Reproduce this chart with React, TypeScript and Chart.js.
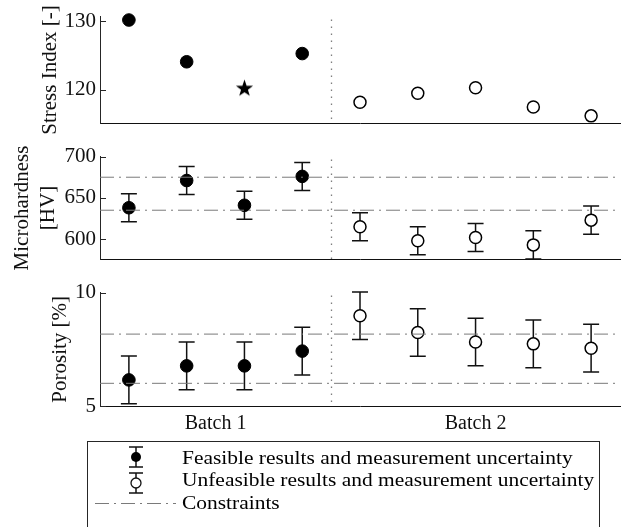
import React, { useEffect, useRef } from 'react';
import { Chart, registerables } from 'chart.js';

Chart.register(...registerables);

// ---------------- data ----------------
const batchLabels = ['Batch 1', 'Batch 2'];
const batch1Index = [0, 1, 2, 3];
const batch2Index = [4, 5, 6, 7, 8];

const stressBatch1 = [130.2, 124.1, 120.3, 125.3];
const stressBatch2 = [118.2, 119.5, 120.3, 117.5, 116.2];
const stressStarIndex = 2;
const stressTicks = [120, 130];

const hardnessBatch1 = [638, 671, 641, 676];
const hardnessBatch2 = [615, 598, 602, 593, 623];
const hardnessErrBatch1 = [17, 17, 17, 17];
const hardnessErrBatch2 = [17, 17, 17, 17, 17];
const hardnessConstraints = [635, 675];
const hardnessTicks = [600, 650, 700];

const porosityBatch1 = [6.15, 6.77, 6.77, 7.42];
const porosityBatch2 = [8.98, 8.24, 7.82, 7.74, 7.55];
const porosityErrBatch1 = [1.05, 1.05, 1.05, 1.05];
const porosityErrBatch2 = [1.05, 1.05, 1.05, 1.05, 1.05];
const porosityConstraints = [6.0, 8.17];
const porosityTicks = [5, 10];

const legendLabels = [
  'Feasible results and measurement uncertainty',
  'Unfeasible results and measurement uncertainty',
  'Constraints',
];

// ---------------- styling ----------------
const FONT = "'Liberation Serif', 'Times New Roman', serif";
const AXIS = '#262626';
const CONSTRAINT = '#7a7a7a';
const DASHDOT = [14, 5, 2, 5];
const X_MIN = -0.5;
const X_MAX = 8.5;
const separatorX = (batch1Index[batch1Index.length - 1] + batch2Index[0]) / 2;
const batchCenters = [batch1Index, batch2Index].map(
  (a) => a.reduce((s, v) => s + v, 0) / a.length
);

function pts(idx: number[], vals: number[]) {
  return idx.map((x, i) => ({ x, y: vals[i] }));
}

function makeStar(size: number) {
  const c = document.createElement('canvas');
  c.width = size;
  c.height = size;
  const g = c.getContext('2d')!;
  const cx = size / 2;
  const cy = size / 2 + 0.8;
  const R = size / 2 - 0.5;
  const r = R * 0.4;
  g.beginPath();
  for (let k = 0; k < 10; k++) {
    const a = -Math.PI / 2 + (k * Math.PI) / 5;
    const rad = k % 2 === 0 ? R : r;
    const px = cx + rad * Math.cos(a);
    const py = cy + rad * Math.sin(a);
    if (k === 0) g.moveTo(px, py);
    else g.lineTo(px, py);
  }
  g.closePath();
  g.fillStyle = '#000';
  g.fill();
  return c;
}

const decorPlugin = {
  id: 'decor',
  beforeDatasetsDraw(chart: any) {
    const { ctx, chartArea, scales } = chart;
    const xs = scales.x;
    const ys = scales.y;
    // batch separator
    ctx.save();
    ctx.strokeStyle = '#7f7f7f';
    ctx.lineWidth = 1.3;
    ctx.setLineDash([1.5, 5.5]);
    const sx = Math.round(xs.getPixelForValue(separatorX)) + 0.5;
    ctx.beginPath();
    ctx.moveTo(sx, chartArea.top + 3);
    ctx.lineTo(sx, chartArea.bottom);
    ctx.stroke();
    ctx.restore();
    // error bars
    ctx.save();
    ctx.strokeStyle = '#111';
    ctx.lineWidth = 1.5;
    chart.data.datasets.forEach((ds: any) => {
      if (!ds.errors) return;
      ds.data.forEach((p: any, i: number) => {
        const e = ds.errors[i];
        const x = xs.getPixelForValue(p.x);
        const y1 = ys.getPixelForValue(p.y + e);
        const y2 = ys.getPixelForValue(p.y - e);
        ctx.beginPath();
        ctx.moveTo(x, y1);
        ctx.lineTo(x, y2);
        ctx.moveTo(x - 8, y1);
        ctx.lineTo(x + 8, y1);
        ctx.moveTo(x - 8, y2);
        ctx.lineTo(x + 8, y2);
        ctx.stroke();
      });
    });
    ctx.restore();
  },
  afterDraw(chart: any, _args: any, opts: any) {
    const { ctx, chartArea, scales } = chart;
    const ys = scales.y;
    // inward y ticks
    ctx.save();
    ctx.strokeStyle = AXIS;
    ctx.lineWidth = 1;
    ys.ticks.forEach((t: any) => {
      const y = Math.round(ys.getPixelForValue(t.value)) + 0.5;
      ctx.beginPath();
      ctx.moveTo(chartArea.left, y);
      ctx.lineTo(chartArea.left + 6, y);
      ctx.stroke();
    });
    ctx.restore();

    if (!opts || !opts.legend) return;
    const oy = opts.offsetY;
    ctx.save();
    // box
    ctx.strokeStyle = AXIS;
    ctx.lineWidth = 1;
    ctx.strokeRect(87.5, 441.5 - oy, 512, 120);
    // glyphs
    const gx = 136;
    const rows = [457, 483];
    rows.forEach((ry, i) => {
      const y = ry - oy;
      ctx.strokeStyle = '#111';
      ctx.lineWidth = 1.5;
      ctx.beginPath();
      ctx.moveTo(gx, y - 10);
      ctx.lineTo(gx, y + 10);
      ctx.moveTo(gx - 7, y - 10);
      ctx.lineTo(gx + 7, y - 10);
      ctx.moveTo(gx - 7, y + 10);
      ctx.lineTo(gx + 7, y + 10);
      ctx.stroke();
      ctx.beginPath();
      ctx.arc(gx, y, 5, 0, Math.PI * 2);
      if (i === 0) {
        ctx.fillStyle = '#000';
        ctx.fill();
      } else {
        ctx.fillStyle = '#fff';
        ctx.fill();
        ctx.lineWidth = 1.3;
        ctx.stroke();
      }
    });
    // constraint line sample
    ctx.strokeStyle = CONSTRAINT;
    ctx.lineWidth = 1;
    ctx.setLineDash(DASHDOT);
    ctx.beginPath();
    ctx.moveTo(95, 503.5 - oy);
    ctx.lineTo(176, 503.5 - oy);
    ctx.stroke();
    ctx.setLineDash([]);
    // texts
    ctx.fillStyle = '#000';
    ctx.font = `19.5px ${FONT}`;
    ctx.textBaseline = 'middle';
    ctx.textAlign = 'left';
    const ty = [459, 481, 504];
    legendLabels.forEach((s, i) => {
      ctx.save();
      ctx.translate(182, ty[i] - oy);
      ctx.scale(1.1, 1);
      ctx.fillText(s, 0, 0);
      ctx.restore();
    });
    ctx.restore();
  },
};

function constraintDataset(v: number) {
  return {
    type: 'line',
    data: [
      { x: X_MIN, y: v },
      { x: X_MAX, y: v },
    ],
    borderColor: CONSTRAINT,
    borderWidth: 1,
    borderDash: DASHDOT,
    pointRadius: 0,
    showLine: true,
    fill: false,
    clip: false,
  };
}

function feasible(data: any[], errors?: number[], styles?: any[]) {
  return {
    type: 'scatter',
    data,
    errors,
    pointStyle: styles || 'circle',
    pointRadius: 6.3,
    backgroundColor: '#000',
    borderColor: '#000',
    borderWidth: 1,
    clip: false,
  };
}
function unfeasible(data: any[], errors?: number[]) {
  return {
    type: 'scatter',
    data,
    errors,
    pointStyle: 'circle',
    pointRadius: 6,
    backgroundColor: '#fff',
    borderColor: '#000',
    borderWidth: 1.5,
    clip: false,
  };
}

function buildOptions(p: any) {
  return {
    animation: false,
    responsive: false,
    devicePixelRatio: window.devicePixelRatio || 1,
    events: [],
    layout: { padding: { top: p.padTop, right: 8, left: 0, bottom: p.padBottom || 0 } },
    plugins: {
      legend: { display: false },
      tooltip: { enabled: false },
      decor: { legend: !!p.legend, offsetY: p.offsetY },
    },
    scales: {
      x: {
        type: 'linear',
        min: X_MIN,
        max: X_MAX,
        grid: { display: false, drawTicks: false },
        border: { display: true, color: '#111', width: 1 },
        ticks: p.xLabels
          ? {
              display: true,
              padding: 6,
              color: '#111',
              font: { family: FONT, size: 20 },
              callback: (_v: any, i: number) => batchLabels[i],
              maxRotation: 0,
              autoSkip: false,
            }
          : { display: false },
        afterBuildTicks: (s: any) => {
          s.ticks = batchCenters.map((v) => ({ value: v }));
        },
        afterFit: (s: any) => {
          s.height = p.xHeight;
        },
      },
      y: {
        type: 'linear',
        min: p.yMin,
        max: p.yMax,
        grid: { display: false, drawTicks: false },
        border: { display: true, color: AXIS, width: 1 },
        ticks: {
          padding: 4,
          color: '#111',
          font: { family: FONT, size: 21 },
        },
        afterBuildTicks: (s: any) => {
          s.ticks = p.yTicks.map((v: number) => ({ value: v }));
        },
        afterFit: (s: any) => {
          s.width = 100;
        },
        title: {
          display: true,
          text: p.title,
          color: '#111',
          font: { family: FONT, size: 21, lineHeight: p.titleLH || 1.2 },
          padding: { top: p.titlePad, bottom: 0 },
        },
      },
    },
  };
}

export default function App() {
  const c1 = useRef<HTMLCanvasElement>(null);
  const c2 = useRef<HTMLCanvasElement>(null);
  const c3 = useRef<HTMLCanvasElement>(null);

  useEffect(() => {
    const star = makeStar(19);
    const starStyles = batch1Index.map((_, i) => (i === stressStarIndex ? star : 'circle'));

    const ch1 = new Chart(c1.current!, {
      type: 'scatter',
      data: {
        datasets: [
          feasible(pts(batch1Index, stressBatch1), undefined, starStyles),
          unfeasible(pts(batch2Index, stressBatch2)),
        ] as any,
      },
      options: buildOptions({
        padTop: 12,
        xHeight: 10,
        yMin: 115.1,
        yMax: 130.7,
        yTicks: stressTicks,
        title: 'Stress Index [-]',
        titlePad: 38,
        offsetY: 0,
      }) as any,
      plugins: [decorPlugin as any],
    });

    const ch2 = new Chart(c2.current!, {
      type: 'scatter',
      data: {
        datasets: [
          ...hardnessConstraints.map(constraintDataset),
          feasible(pts(batch1Index, hardnessBatch1), hardnessErrBatch1),
          unfeasible(pts(batch2Index, hardnessBatch2), hardnessErrBatch2),
        ] as any,
      },
      options: buildOptions({
        padTop: 9,
        xHeight: 8,
        yMin: 575.4,
        yMax: 700,
        yTicks: hardnessTicks,
        title: ['Microhardness', '[HV]'],
        titlePad: 9,
        titleLH: 1.25,
        offsetY: 140,
      }) as any,
      plugins: [decorPlugin as any],
    });

    const ch3 = new Chart(c3.current!, {
      type: 'scatter',
      data: {
        datasets: [
          ...porosityConstraints.map(constraintDataset),
          feasible(pts(batch1Index, porosityBatch1), porosityErrBatch1),
          unfeasible(pts(batch2Index, porosityBatch2), porosityErrBatch2),
        ] as any,
      },
      options: buildOptions({
        padTop: 9,
        padBottom: 91,
        xHeight: 30,
        xLabels: true,
        yMin: 5,
        yMax: 10,
        yTicks: porosityTicks,
        title: 'Porosity [%]',
        titlePad: 48,
        legend: true,
        offsetY: 276,
      }) as any,
      plugins: [decorPlugin as any],
    });

    return () => {
      ch1.destroy();
      ch2.destroy();
      ch3.destroy();
    };
  }, []);

  const wrap: React.CSSProperties = {
    position: 'absolute',
    left: 0,
    top: 0,
    width: 628,
    height: 527,
    background: '#fff',
    overflow: 'hidden',
  };
  const abs = (top: number): React.CSSProperties => ({
    position: 'absolute',
    left: 0,
    top,
    display: 'block',
  });

  return (
    <div style={wrap}>
      <canvas ref={c1} width={628} height={140} style={abs(0)} />
      <canvas ref={c2} width={628} height={136} style={abs(140)} />
      <canvas ref={c3} width={628} height={251} style={abs(276)} />
    </div>
  );
}
